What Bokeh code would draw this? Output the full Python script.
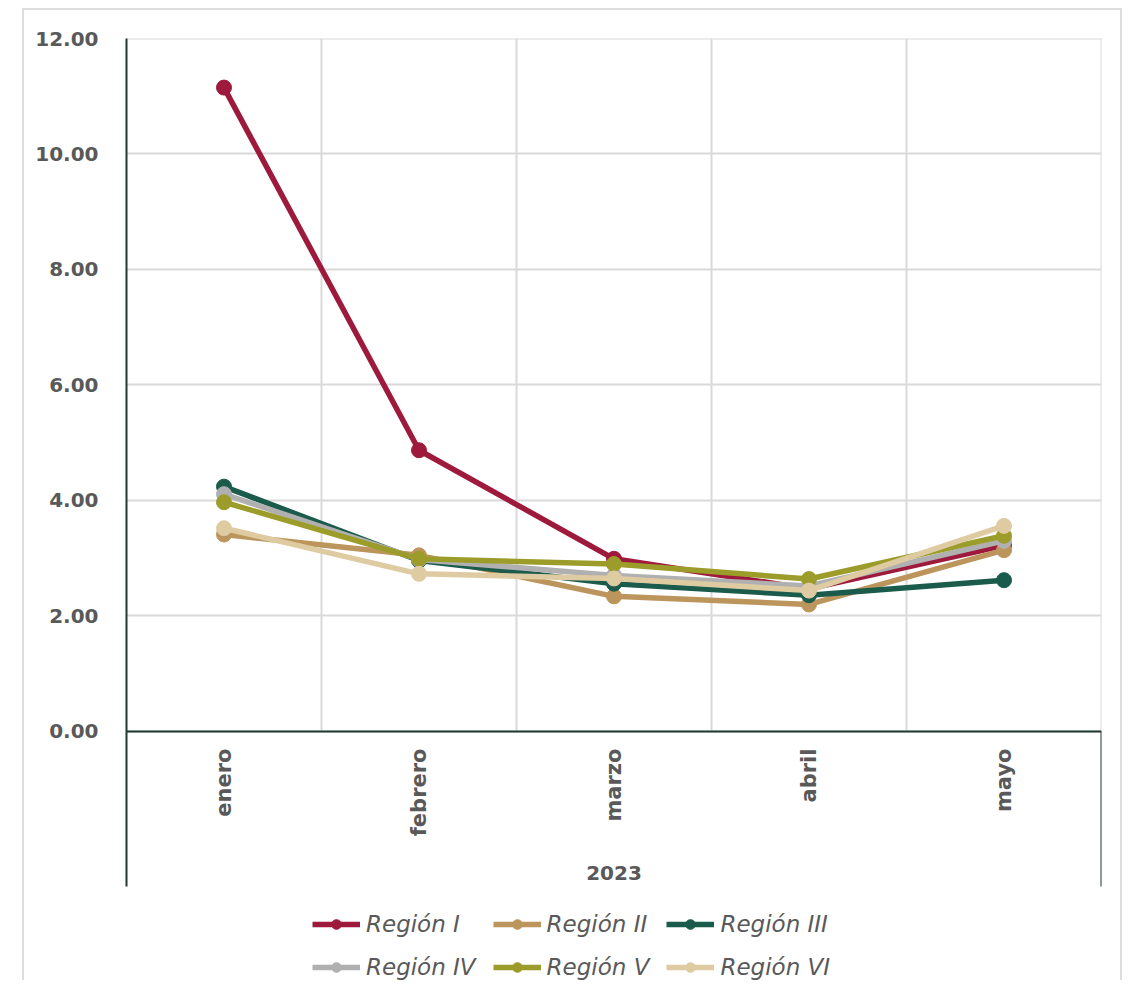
import math
from bokeh.plotting import figure
from bokeh.models import (Range1d, FixedTicker, NumeralTickFormatter, Legend, LegendItem)
from bokeh.core.properties import value
from bokeh.embed import file_html
from bokeh.resources import INLINE

months = ["enero", "febrero", "marzo", "abril", "mayo"]
year_label = "2023"
series_names = ["Región I", "Región II", "Región III", "Región IV", "Región V", "Región VI"]
region_1 = [11.15, 4.87, 2.99, 2.47, 3.22]
region_2 = [3.41, 3.05, 2.34, 2.20, 3.14]
region_3 = [4.24, 2.96, 2.56, 2.36, 2.62]
region_4 = [4.11, 2.98, 2.70, 2.52, 3.30]
region_5 = [3.97, 2.99, 2.90, 2.64, 3.39]
region_6 = [3.52, 2.73, 2.65, 2.44, 3.56]
y_ticks = [0, 2, 4, 6, 8, 10, 12]

colors = ["#9E1A3C", "#BC955C", "#1B5B4B", "#B0B0B0", "#9C9C2A", "#DFCBA2"]
series = [region_1, region_2, region_3, region_4, region_5, region_6]

FONT = "DejaVu Sans"
TXT = "#595959"
GRID = "#D9D9D9"
AXIS = "#1F3A33"

n = len(months)
xs = [i + 0.5 for i in range(n)]
y_top = 12
y_box = -2.684      # bottom of the category box
y_bottom = -4.312   # frame extended to hold the legend

p = figure(frame_width=975, frame_height=942, output_backend="svg", toolbar_location=None,
           x_range=Range1d(0, n), y_range=Range1d(y_bottom, y_top),
           min_border_left=126, min_border_right=23, min_border_top=38, min_border_bottom=0)
p.outline_line_color = None
p.border_fill_alpha = 0
p.styles = {
    "background-color": "white",
    "background-image": "linear-gradient(#DCDCDC,#DCDCDC), linear-gradient(#DCDCDC,#DCDCDC), linear-gradient(#DCDCDC,#DCDCDC)",
    "background-size": "2px 100%, 2px 100%, 1100px 2px",
    "background-position": "22px 8px, 1120px 8px, 22px 8px",
    "background-repeat": "no-repeat",
}
p.xgrid.visible = False
p.xaxis.visible = False
p.ygrid.ticker = FixedTicker(ticks=y_ticks)
p.ygrid.grid_line_color = GRID
p.ygrid.grid_line_width = 2

p.yaxis.ticker = FixedTicker(ticks=y_ticks)
p.yaxis.bounds = (y_box, y_top)
p.yaxis.formatter = NumeralTickFormatter(format="0.00")
p.yaxis.major_tick_line_color = None
p.yaxis.minor_tick_line_color = None
p.yaxis.axis_line_color = AXIS
p.yaxis.axis_line_width = 2
p.yaxis.major_label_text_font = FONT
p.yaxis.major_label_text_font_style = "bold"
p.yaxis.major_label_text_font_size = "20px"
p.yaxis.major_label_text_color = TXT
p.yaxis.major_label_standoff = 22

# vertical gridlines at category boundaries, top line
bounds = list(range(1, n + 1))
p.segment(x0=bounds, y0=[0] * len(bounds), x1=bounds, y1=[y_top] * len(bounds),
          line_color=GRID, line_width=2)
p.segment(x0=[0], y0=[y_top], x1=[n], y1=[y_top], line_color=GRID, line_width=2)
# category axis lines
p.segment(x0=[0], y0=[0], x1=[n], y1=[0], line_color=AXIS, line_width=2)
p.segment(x0=[n], y0=[y_box], x1=[n], y1=[0], line_color=AXIS, line_width=2)

# category labels
p.text(x=xs, y=[0] * n, text=months, angle=math.pi / 2, text_align="right",
       text_baseline="middle", y_offset=17, text_font=value(FONT),
       text_font_style="bold", text_font_size="21px", text_color=TXT)
p.text(x=[n / 2], y=[y_box], text=[year_label], text_align="center",
       text_baseline="middle", y_offset=-13, text_font=value(FONT),
       text_font_style="bold", text_font_size="20px", text_color=TXT)

items = []
for name, vals, c in zip(series_names, series, colors):
    r1 = p.line(xs, vals, line_color=c, line_width=5.5)
    r2 = p.scatter(xs, vals, size=15, fill_color=c, line_color=c)
    items.append(LegendItem(label=name, renderers=[r1, r2]))

legend = Legend(items=items, orientation="horizontal", ncols=3,
                location=(186, 0), glyph_width=48, glyph_height=24,
                label_standoff=6, spacing=17, padding=0, margin=0,
                label_text_font=FONT, label_text_font_style="italic",
                label_text_font_size="23px", label_text_color=TXT,
                background_fill_alpha=0, border_line_color=None)
p.add_layout(legend, "center")

open("out.html", "w").write(file_html(p, INLINE))
